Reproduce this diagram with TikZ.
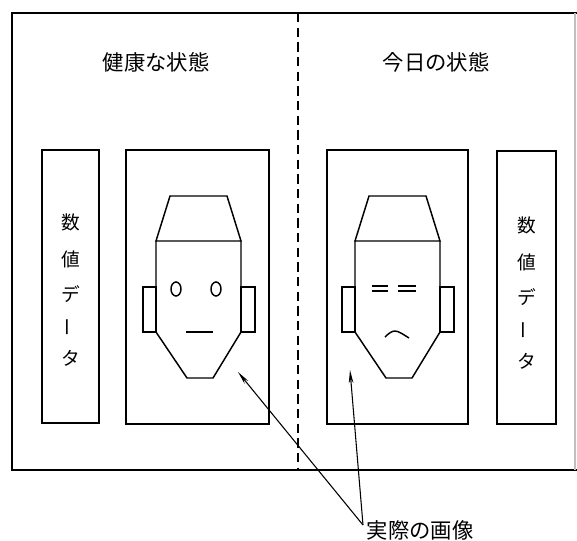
\documentclass[tikz,border=0pt]{standalone}
\usepackage{fontspec}
\newfontfamily\jp{Noto Sans CJK JP}
\usetikzlibrary{arrows.meta}

\begin{document}
\begin{tikzpicture}[x=0.75pt,y=-0.75pt,line width=1.1pt,
	title/.style={font=\jp\fontsize{16}{18}\selectfont},
	datachar/.style={font=\jp\fontsize{14}{16}\selectfont,inner sep=0pt},
	pointer/.style={-{Stealth[length=10pt,width=3.5pt]},line width=0.8pt}]
	\useasboundingbox (0,0) rectangle (577,540);

	% outer frame and the dashed divider
	\draw [line width=1.2pt] (577,13) -- (12,13) -- (12,470) -- (577,470);
	\draw [black!25] (575,13) -- (575,470);
	\draw [dash pattern=on 7pt off 4pt] (298,13) -- (298,470);

	\node [title] (okTitle) at (156,62) {健康な状態};
	\node [title] (todayTitle) at (436,62) {今日の状態};

	% numeric data columns
	\draw (42,150) rectangle (99,423);
	\draw (497,151) rectangle (556,424);
	\foreach \c/\y/\r [count=\i] in {数/222/0,値/259/0,デ/294/0,ー/327/90,タ/358/0}{
		\node [datachar,rotate=\r] (lnum\i) at (70.5,\y) {\c};
		\node [datachar,rotate=\r] (rnum\i) at (526.5,\y+3) {\c};
	}

	% image frames
	\draw (126,150) rectangle (269,424);
	\draw (327,150) rectangle (468,424);

	% the two heads share one outline
	\foreach \dx in {0,199}{
		\begin{scope}[xshift=\dx*0.75pt]
			\draw (170,196) -- (227,196) -- (241,241) -- (156,241) -- cycle;
			\draw (156,241) -- (156,332) -- (187,378) -- (213,378) -- (241,332) -- (241,241);
			\draw (143,287) rectangle (156,332);
			\draw (241,287) rectangle (255,332);
		\end{scope}
	}

	% healthy face
	\draw (176,289) ellipse [x radius=5,y radius=7];
	\draw (216,289) ellipse [x radius=5,y radius=7];
	\draw (186,332) -- (213,332);

	% today's face
	\draw (372,286) -- (388,286) (372,291) -- (388,291);
	\draw (398,286) -- (416,286) (398,291) -- (416,291);
	\draw (385,337) .. controls (389,333) and (392,331) .. (395,331)
		.. controls (399,331) and (404,335) .. (409,338);

	% label pointing at both images
	\node [title,anchor=west,inner sep=0pt] (realImg) at (366,530) {実際の画像};
	\coordinate (src) at ([shift={(-3,-5)}]realImg.west);
	\coordinate (tipL) at (238,372);
	\coordinate (tipR) at (350,370);
	\draw [pointer] (src) -- (tipL);
	\draw [pointer] (src) -- (tipR);
\end{tikzpicture}
\end{document}
